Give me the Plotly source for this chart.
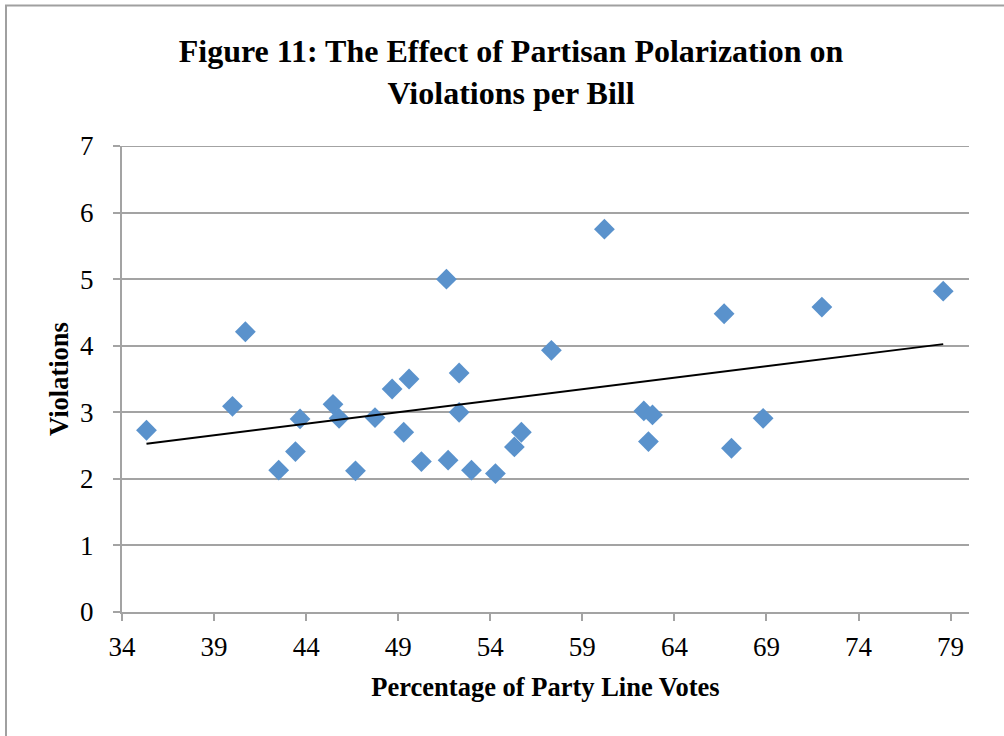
import numpy as np
import plotly.graph_objects as go

# Data
party_line_pct = [35.33, 40.0, 40.70, 42.51, 43.42, 43.67, 45.46, 45.79, 46.68, 47.74,
                  48.67, 49.30, 49.59, 50.26, 51.62, 51.71, 52.31, 52.31, 52.98, 54.28,
                  55.31, 55.69, 57.32, 60.20, 62.34, 62.81, 62.59, 66.70, 67.10, 68.82,
                  72.01, 78.60]
violations = [2.73, 3.09, 4.21, 2.13, 2.41, 2.90, 3.12, 2.91, 2.12, 2.92,
              3.35, 2.70, 3.50, 2.26, 5.00, 2.28, 3.59, 3.00, 2.13, 2.08,
              2.48, 2.70, 3.93, 5.75, 3.02, 2.96, 2.56, 4.48, 2.46, 2.91,
              4.58, 4.82]
x_ticks = [34, 39, 44, 49, 54, 59, 64, 69, 74, 79]
y_ticks = [0, 1, 2, 3, 4, 5, 6, 7]

title_text = "Figure 11: The Effect of Partisan Polarization on<br>Violations per Bill"
x_title = "Percentage of Party Line Votes"
y_title = "Violations"

# Linear trend line fitted to the data
xs = np.array(party_line_pct)
ys = np.array(violations)
slope, intercept = np.polyfit(xs, ys, 1)
trend_x = [xs.min(), xs.max()]
trend_y = [slope * v + intercept for v in trend_x]

W, H = 1004, 736
ML, MR, MT, MB = 122, 35, 146, 124
pw = W - ML - MR
ph = H - MT - MB

grid_col = "#a3a3a3"
serif = "Liberation Serif, Times New Roman, serif"

fig = go.Figure()
fig.add_trace(go.Scatter(
    x=party_line_pct, y=violations, mode="markers",
    marker=dict(symbol="diamond", size=16, color="#5A92CC", line=dict(width=0)),
    showlegend=False, hoverinfo="x+y"))
fig.add_trace(go.Scatter(
    x=trend_x, y=trend_y, mode="lines",
    line=dict(color="black", width=2), showlegend=False, hoverinfo="skip"))

def px_x(p):
    return (p - ML) / pw

def px_y(p):
    return (H - MB - p) / ph

# Outer chart border (left and top visible)
fig.add_shape(type="rect", xref="paper", yref="paper",
              x0=px_x(6), x1=px_x(1030), y0=px_y(5.5), y1=px_y(780),
              line=dict(color="#a0a0a0", width=2), fillcolor="rgba(0,0,0,0)",
              layer="below")
# Top gridline at y = 7 (plotly omits the grid line at the range edge)
fig.add_shape(type="line", xref="paper", yref="y",
              x0=0, x1=1, y0=y_ticks[-1], y1=y_ticks[-1],
              line=dict(color=grid_col, width=2), layer="below")

fig.update_layout(
    width=W, height=H,
    margin=dict(l=ML, r=MR, t=MT, b=MB, pad=0),
    paper_bgcolor="white", plot_bgcolor="white",
    title=dict(text=title_text, x=511 / W, xref="container", xanchor="center",
               y=1 - 62 / H, yref="container", yanchor="top",
               font=dict(family=serif, size=32, color="black", weight="bold")),
    font=dict(family=serif, color="black"),
)
fig.update_xaxes(
    range=[34, 80], tickvals=x_ticks, ticktext=[str(v) for v in x_ticks],
    showgrid=False, zeroline=False,
    showline=True, linecolor=grid_col, linewidth=2,
    ticks="outside", ticklen=7, tickwidth=2, tickcolor=grid_col,
    tickfont=dict(family=serif, size=27, color="black"),
    ticklabelstandoff=3,
    title=dict(text=x_title, font=dict(family=serif, size=26.5, color="black", weight="bold"),
               standoff=16),
)
fig.update_yaxes(
    range=[0, 7], tickvals=y_ticks, ticktext=[str(v) for v in y_ticks],
    showgrid=True, gridcolor=grid_col, gridwidth=2, zeroline=False,
    showline=True, linecolor=grid_col, linewidth=2,
    ticks="outside", ticklen=7, tickwidth=2, tickcolor=grid_col,
    tickfont=dict(family=serif, size=27, color="black"),
    ticklabelstandoff=14,
    title=dict(text=y_title, font=dict(family=serif, size=26.5, color="black", weight="bold"),
               standoff=4),
)

fig.write_html("out.html", config=dict(displayModeBar=False))
